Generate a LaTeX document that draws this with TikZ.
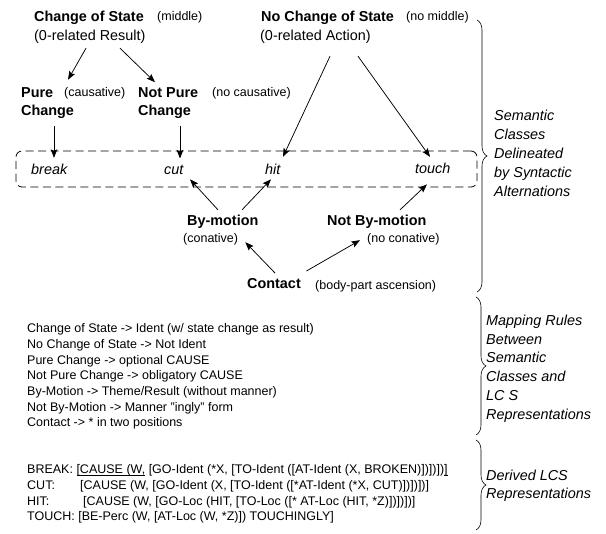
\documentclass[tikz,border=0pt]{standalone}
\usepackage{fontspec}
\setmainfont{Liberation Sans}
\usetikzlibrary{arrows.meta,calc,decorations.pathreplacing}

\newcommand{\lcsunder}[1]{\underline{\smash{#1}}}

\tikzset{
  classlabel/.style={font=\fontsize{14.4}{17}\selectfont\bfseries, inner sep=0pt, anchor=base west},
  subtitle/.style={font=\fontsize{14.4}{17}\selectfont, inner sep=0pt, anchor=base west},
  altnote/.style={font=\fontsize{12.5}{15}\selectfont, inner sep=0pt, anchor=base west},
  verbname/.style={font=\fontsize{14.4}{17}\selectfont\itshape, inner sep=0pt, anchor=base west},
  ruleline/.style={font=\fontsize{12.5}{15}\selectfont, inner sep=0pt, anchor=base west},
  sidelabel/.style={align=left, inner sep=0pt, anchor=west},
  arr/.style={-{Stealth[length=8.5pt,width=6.5pt,inset=1.5pt]}, line width=0.75pt},
  sidebrace/.style={decorate, decoration={brace, amplitude=10pt}, line width=0.6pt},
}

\begin{document}
\begin{tikzpicture}[x=1pt, y=-1pt]
    \useasboundingbox (0,0) rectangle (606,534);

    % top level classes
    \node (cos) [classlabel] at (34, 22) {Change of State};
    \node (cosnote) [altnote] at (157, 21) {(middle)};
    \node (cosres) [subtitle] at (34, 41) {(0-related Result)};
    \node (ncos) [classlabel] at (261, 22) {No Change of State};
    \node (ncosnote) [altnote] at (406, 21) {(no middle)};
    \node (ncosres) [subtitle] at (260, 41) {(0-related Action)};

    % second level
    \node (pure) [classlabel] at (21, 98) {Pure};
    \node (purechg) [classlabel] at (21, 116) {Change};
    \node (purenote) [altnote] at (64, 97) {(causative)};
    \node (npure) [classlabel] at (138, 98) {Not Pure};
    \node (npurechg) [classlabel] at (138, 116) {Change};
    \node (npurenote) [altnote] at (212, 97) {(no causative)};

    % verb classes
    \node (vclass) [draw, dash pattern=on 8pt off 4.5pt, rounded corners=6pt, line width=0.8pt, minimum width=461pt, minimum height=36pt, inner sep=0pt] at (246.5, 169) {};
    \node (vbreak) [verbname] at (31, 175) {break};
    \node (vcut) [verbname] at (164, 175) {cut};
    \node (vhit) [verbname] at (265, 175) {hit};
    \node (vtouch) [verbname] at (415, 174) {touch};

    % contact classes
    \node (bym) [classlabel] at (187, 226) {By-motion};
    \node (bymnote) [altnote] at (183, 243) {(conative)};
    \node (nbym) [classlabel] at (327, 226) {Not By-motion};
    \node (nbymnote) [altnote] at (367, 243) {(no conative)};
    \node (contact) [classlabel] at (247, 289) {Contact};
    \node (contactnote) [altnote] at (315, 290) {(body-part ascension)};

    \draw[arr] ($(cosres.south west)+(52,4)$) -- ($(purenote.north west)+(4,-8)$);
    \draw[arr] ($(cosres.south west)+(86,4)$) -- ($(npure.north west)+(17,-5.7)$);
    \draw[arr] ($(purechg.south west)+(33,7)$) -- ($(vbreak.north west)+(23,-6.5)$);
    \draw[arr] ($(npurechg.south west)+(42,7)$) -- ($(vcut.north west)+(16,-7)$);
    \draw[arr] ($(ncosres.south west)+(70,12)$) -- ($(vhit.north west)+(18,-7.5)$);
    \draw[arr] ($(ncosres.south west)+(98,12)$) -- ($(vtouch.north west)+(15,-6.5)$);
    \draw[arr] ($(bym.north west)+(31,-5.5)$) -- ($(vcut.south west)+(26,4)$);
    \draw[arr] ($(bym.north west)+(55,-5.5)$) -- ($(vhit.south west)+(6,4)$);
    \draw[arr] ($(nbym.north west)+(73,-5.5)$) -- ($(vtouch.south west)+(12,10)$);
    \draw[arr] ($(contact.north west)+(28,-5.7)$) -- ($(bymnote.south east)+(7,-3.6)$);
    \draw[arr] ($(contact.north east)+(5.4,-7.7)$) -- ($(nbymnote.south west)+(-7,-5.6)$);

    % mapping rules
    \foreach \ruletext [count=\i from 0] in {
        {Change of State -> Ident (w/ state change as result)},
        {No Change of State -> Not Ident},
        {Pure Change -> optional CAUSE},
        {Not Pure Change -> obligatory CAUSE},
        {By-Motion -> Theme/Result (without manner)},
        {Not By-Motion -> Manner "ingly" form},
        {Contact -> * in two positions}}
      \node (rule\i) [ruleline] at (27, 333+15.65*\i) {\ruletext};

    % derived LCS
    \node (lcsbreak) [ruleline] at (27, 474) {BREAK: \lcsunder{[CAUSE (W,} [GO-Ident (*X, [TO-Ident ([AT-Ident (X, BROKEN)])])])\lcsunder{]}};
    \node (lcscut) [ruleline] at (27, 490) {\makebox[53pt][l]{CUT:}[CAUSE (W, [GO-Ident (X, [TO-Ident ([*AT-Ident (*X, CUT)])])])]};
    \node (lcshit) [ruleline] at (27, 505.5) {\makebox[56pt][l]{HIT:}[CAUSE (W, [GO-Loc (HIT, [TO-Loc ([* AT-Loc (HIT, *Z)])])])]};
    \node (lcstouch) [ruleline] at (27, 521) {TOUCH: [BE-Perc (W, [AT-Loc (W, *Z)]) TOUCHINGLY]};

    % side braces and labels
    \draw[sidebrace] (477, 20) -- (477, 292);
    \draw[sidebrace] (476, 297) -- (476, 435);
    \draw[sidebrace] (476, 440) -- (476, 530);
    \node (semlabel) [sidelabel, font=\fontsize{14.4}{19}\selectfont\itshape] at (494, 153) {Semantic\\Classes\\Delineated\\by Syntactic\\Alternations};
    \node (maplabel) [sidelabel, font=\fontsize{14.4}{18.8}\selectfont\itshape] at (486, 368.5) {Mapping Rules\\Between\\Semantic\\Classes and\\LC S\\Representations};
    \node (lcslabel) [sidelabel, font=\fontsize{14.4}{18}\selectfont\itshape] at (486, 485.5) {Derived LCS\\Representations};
\end{tikzpicture}
\end{document}
